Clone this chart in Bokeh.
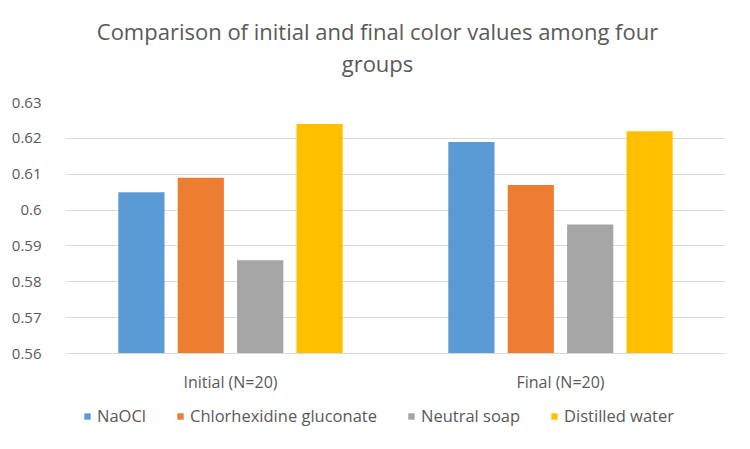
from bokeh.plotting import figure
from bokeh.models import (ColumnDataSource, Range1d, Legend, LegendItem, FixedTicker, Label)
from bokeh.layouts import column
from bokeh.transform import dodge
from bokeh.embed import file_html
from bokeh.resources import INLINE

groups = ["Initial (N=20)", "Final (N=20)"]
series = ["NaOCl", "Chlorhexidine gluconate", "Neutral soap", "Distilled water"]
naocl = [0.605, 0.619]
chlorhexidine = [0.609, 0.607]
neutral_soap = [0.586, 0.596]
distilled_water = [0.624, 0.622]
colors = ["#5B9BD5", "#ED7D31", "#A5A5A5", "#FFC000"]
y_ticks = [0.56, 0.57, 0.58, 0.59, 0.60, 0.61, 0.62, 0.63]
title_lines = ["Comparison of initial and final color values among four", "groups"]

FONT = "Open Sans"
GREY = "#595959"
W = 750
TOP_H, BOTTOM_H = 92, 56
offsets = [-0.27, -0.09, 0.09, 0.27]

src = ColumnDataSource(dict(groups=groups, s0=naocl, s1=chlorhexidine,
                            s2=neutral_soap, s3=distilled_water))

# ---- title strip (its frame is aligned with the chart frame: x 65..725) ----
ft = figure(width=W, height=TOP_H, x_range=Range1d(65, 725), y_range=Range1d(0, TOP_H),
            x_axis_location=None, y_axis_location=None, toolbar_location=None,
            output_backend="svg", min_border=0)
ft.grid.visible = False
ft.outline_line_color = None
for txt, yy in zip(title_lines, [62, 30]):
    ft.add_layout(Label(x=377, y=yy, text=txt, text_align="center", text_baseline="alphabetic",
                        text_font=FONT, text_font_size="22px", text_color=GREY))

# ---- main chart ----
p = figure(x_range=groups, y_range=Range1d(0.56, 0.63),
           frame_width=660, frame_height=251,
           output_backend="svg", toolbar_location=None,
           min_border_left=65, min_border_right=25, min_border_top=10, min_border_bottom=40)

for i, col in enumerate(colors):
    p.vbar(x=dodge("groups", offsets[i], range=p.x_range), top=f"s{i}", bottom=0.56,
           width=0.14, source=src, fill_color=col, line_color=None)

p.yaxis.ticker = FixedTicker(ticks=y_ticks)
p.yaxis.major_label_overrides = {0.6: "0.6"}
p.yaxis.axis_line_color = None
p.yaxis.major_tick_line_color = None
p.yaxis.minor_tick_line_color = None
p.yaxis.major_label_text_font = FONT
p.yaxis.major_label_text_font_size = "15px"
p.yaxis.major_label_text_color = GREY
p.yaxis.major_label_standoff = 18

p.xaxis.axis_line_color = "#D9D9D9"
p.xaxis.major_tick_line_color = None
p.xaxis.minor_tick_line_color = None
p.xaxis.major_label_text_font = FONT
p.xaxis.major_label_text_font_size = "16px"
p.xaxis.major_label_text_color = GREY
p.xaxis.major_label_standoff = 11

p.xgrid.grid_line_color = None
p.ygrid.grid_line_color = "#D9D9D9"
p.ygrid.ticker = FixedTicker(ticks=y_ticks)
p.outline_line_color = None

# ---- legend strip: same series bars, kept below its visible y window ----
fl = figure(width=W, height=BOTTOM_H, x_range=groups, y_range=Range1d(1, 1 + BOTTOM_H),
            x_axis_location=None, y_axis_location=None, toolbar_location=None,
            output_backend="svg", min_border=0)
fl.grid.visible = False
fl.outline_line_color = None
items = []
for i, (name, col) in enumerate(zip(series, colors)):
    r = fl.vbar(x=dodge("groups", offsets[i], range=fl.x_range), top=f"s{i}", bottom=0.56,
                width=0.14, source=src, fill_color=col, line_color=None)
    items.append(LegendItem(label=name, renderers=[r]))
legend = Legend(items=items, orientation="horizontal", location=(18, 24),
                label_text_font=FONT, label_text_font_size="16.5px", label_text_color=GREY,
                glyph_width=8, glyph_height=8, spacing=30, label_standoff=6,
                border_line_color=None, background_fill_alpha=0, padding=0, margin=0)
fl.add_layout(legend, "center")

layout = column(ft, p, fl, spacing=0)
open("out.html", "w").write(file_html(layout, INLINE))
